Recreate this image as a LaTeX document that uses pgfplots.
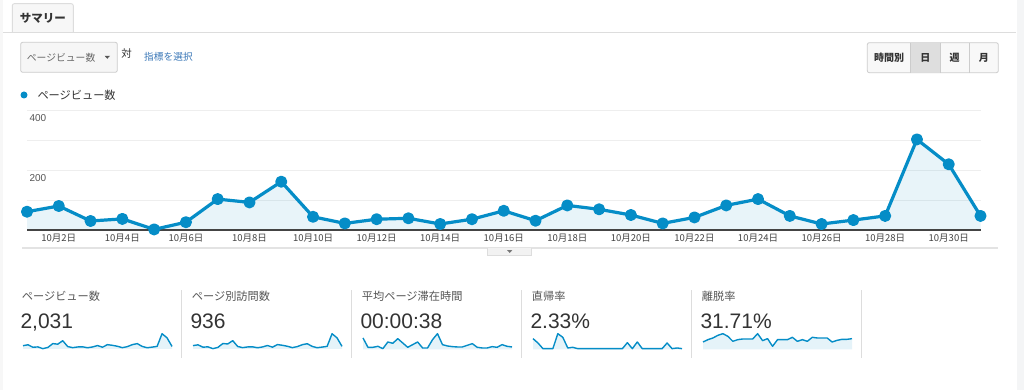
\documentclass[border=0pt]{standalone}
\usepackage{pgfplots}
\pgfplotsset{compat=1.18}
\usepackage{pgfplotstable}
\usepackage{fontspec}
\setmainfont{Liberation Sans}
\newfontfamily\jp{Noto Sans CJK JP}
\definecolor{ga}{HTML}{058DC7}
\definecolor{txt}{HTML}{333333}
\definecolor{lbl}{HTML}{555555}
\definecolor{sep}{HTML}{DDDDDD}
\definecolor{gridc}{HTML}{EEEEEE}
\definecolor{link}{HTML}{3B78B8}
\definecolor{base}{HTML}{444444}
\definecolor{cF7}{HTML}{F7F7F7}
\definecolor{cF4}{HTML}{F4F5F6}
\definecolor{cF6}{HTML}{F6F6F6}
\definecolor{cF8}{HTML}{F8F8F8}
\definecolor{cCC}{HTML}{CCCCCC}
\definecolor{cDE}{HTML}{DEDEDE}
\definecolor{c66}{HTML}{666666}
\definecolor{c55}{HTML}{555555}
\definecolor{c77}{HTML}{777777}
\definecolor{cE3}{HTML}{E3E3E3}
\definecolor{cF2}{HTML}{F2F2F2}

\pgfplotstableread{
x pv pvs avg br ex
1 61 29 34 32 22
2 80 36 6 19 29
3 30 15 6 2 34
4 37 18 9 2 42
5 2 2 2 2 47
6 26 13 22 47 39
7 103 47 18 36 24
8 92 44 32 4 29
9 161 73 19 6 31
10 44 21 6 2 31
11 22 11 14 2 31
12 36 17 22 2 47
13 39 18 4 2 26
14 20 10 4 2 32
15 36 17 29 2 9
16 64 30 47 2 29
17 31 15 14 2 29
18 82 38 10 2 29
19 69 32 8 2 36
20 50 23 7 20 24
21 22 11 7 2 29
22 42 20 12 22 24
23 82 37 17 2 36
24 103 46 6 2 34
25 47 22 4 2 34
26 20 10 4 2 34
27 33 16 8 2 22
28 47 22 6 19 27
29 302 135 14 2 30
30 219 98 9 4 30
31 47 22 7 2 32
}\data

\pgfplotsset{spark/.style={scale only axis, width=149pt, height=21.3pt,
  xmin=1, xmax=31, hide axis, clip=false, anchor=south west}}

\newcommand{\spark}[4]{% x, column, ymin, ymax
\begin{axis}[spark, at={(#1pt,-349.3pt)}, ymin=#3, ymax=#4]
\addplot[draw=none, fill=ga, fill opacity=0.1] table[x=x,y=#2]{\data} \closedcycle;
\addplot[ga, line width=1.4pt, line join=round] table[x=x,y=#2]{\data};
\end{axis}}

\begin{document}
\begin{tikzpicture}
\begin{scope}[x=1pt,y=-1pt]
\fill[white] (0,0) rectangle (1024,390);
\fill[cF7] (0,0) rectangle (3,390);
\fill[cF4] (1017,0) rectangle (1024,390);
% tab
\filldraw[fill=cF7, draw=sep, line width=0.9pt, rounded corners=2pt] (12.3,32.7) -- (12.3,3.7) -- (73.3,3.7) -- (73.3,32.7);
\draw[sep, line width=1.2pt] (3,32.7) -- (1016,32.7);
\node[inner sep=0pt, text=txt] at (42.8,18) {\jp\bfseries\fontsize{11.5}{13}\selectfont サマリー};
% dropdown
\filldraw[fill=cF6, draw=cCC, line width=0.8pt, rounded corners=2pt] (20.7,42.3) rectangle (117.3,72.3);
\node[inner sep=0pt, anchor=west, text=c66] at (26.7,57.3) {\jp\fontsize{9.8}{12}\selectfont ページビュー数};
\fill[c55] (104.6,55.8) -- (110,55.8) -- (107.3,58.8) -- cycle;
\node[inner sep=0pt, text=txt] at (126.5,53.8) {\jp\fontsize{10.5}{12}\selectfont 対};
\node[inner sep=0pt, anchor=west, text=link] at (144,57.3) {\jp\fontsize{9.7}{12}\selectfont 指標を選択};
% buttons
\filldraw[fill=cF8, draw=cCC, line width=0.8pt, rounded corners=2pt] (867.3,42.7) rectangle (998.3,72.7);
\fill[cDE] (910.7,43.1) rectangle (940,72.3);
\draw[cCC, line width=0.8pt] (910.7,42.7) -- (910.7,72.7) (940,42.7) -- (940,72.7) (969.3,42.7) -- (969.3,72.7);
\node[inner sep=0pt, text=txt] at (889,57.7) {\jp\bfseries\fontsize{10}{12}\selectfont 時間別};
\node[inner sep=0pt, text=txt] at (925.3,57.7) {\jp\bfseries\fontsize{10}{12}\selectfont 日};
\node[inner sep=0pt, text=txt] at (954.6,57.7) {\jp\bfseries\fontsize{10}{12}\selectfont 週};
\node[inner sep=0pt, text=txt] at (983.8,57.7) {\jp\bfseries\fontsize{10}{12}\selectfont 月};
% legend
\fill[ga] (24,95) circle (3.5pt);
\node[inner sep=0pt, anchor=west, text=txt] at (37.3,95) {\jp\fontsize{11.2}{13}\selectfont ページビュー数};
% separator below chart
\draw[cE3, line width=1.2pt] (22,248) -- (998,248);
\filldraw[fill=cF2, draw=sep, line width=0.8pt] (487.7,248) -- (487.7,255.7) -- (531.7,255.7) -- (531.7,248);
\fill[c77] (507,250) -- (512.4,250) -- (509.7,253) -- cycle;
% metrics
\foreach \i/\lab/\val in {0/ページビュー数/{2,031}, 1/ページ別訪問数/936, 2/平均ページ滞在時間/00:00:38, 3/直帰率/2.33\%, 4/離脱率/31.71\%}{
  \node[inner sep=0pt, anchor=west, text=lbl] at (21.7+170*\i,296) {\jp\fontsize{11.2}{13}\selectfont \lab};
  \node[inner sep=0pt, anchor=base west, text=txt] at (20.3+170*\i,328.3) {\fontsize{21}{24}\selectfont \val};
  \draw[sep, line width=1pt] (181.7+170*\i,290) -- (181.7+170*\i,358);
}
\end{scope}

\begin{axis}[at={(27pt,-230pt)}, anchor=south west, scale only axis,
  width=953.5pt, height=120pt, xmin=1, xmax=31, ymin=0, ymax=400, clip=false,
  axis line style={draw=none}, tick style={draw=none},
  xtick={2,4,...,30},
  xticklabels={10月2日,10月4日,10月6日,10月8日,10月10日,10月12日,10月14日,10月16日,10月18日,10月20日,10月22日,10月24日,10月26日,10月28日,10月30日},
  xticklabel style={font=\jp\fontsize{9.5}{11}\selectfont, text=base},
  ytick={100,200,300,400}, yticklabels={,200,,400},
  yticklabel style={anchor=north west, font=\fontsize{10}{12}\selectfont, text=lbl, xshift=-1pt, yshift=-1pt},
  ymajorgrids, major grid style={gridc, line width=1pt}]
\addplot[draw=none, fill=ga, fill opacity=0.09] table[x=x,y=pv]{\data} \closedcycle;
\addplot[base, line width=1.6pt] coordinates {(1,0) (31,0)};
\addplot[ga, line width=3.2pt, line join=round, mark=*, mark size=4.4pt, mark options={solid, fill=ga, draw=none}] table[x=x,y=pv]{\data};
\end{axis}

\spark{23}{pv}{-11}{416}
\spark{193}{pvs}{-4}{186}
\spark{363}{avg}{0}{64}
\spark{533}{br}{0}{64}
\spark{703}{ex}{0}{64}

\pgfresetboundingbox
\path[use as bounding box] (0pt,0pt) rectangle (1024pt,-390pt);
\end{tikzpicture}
\end{document}
